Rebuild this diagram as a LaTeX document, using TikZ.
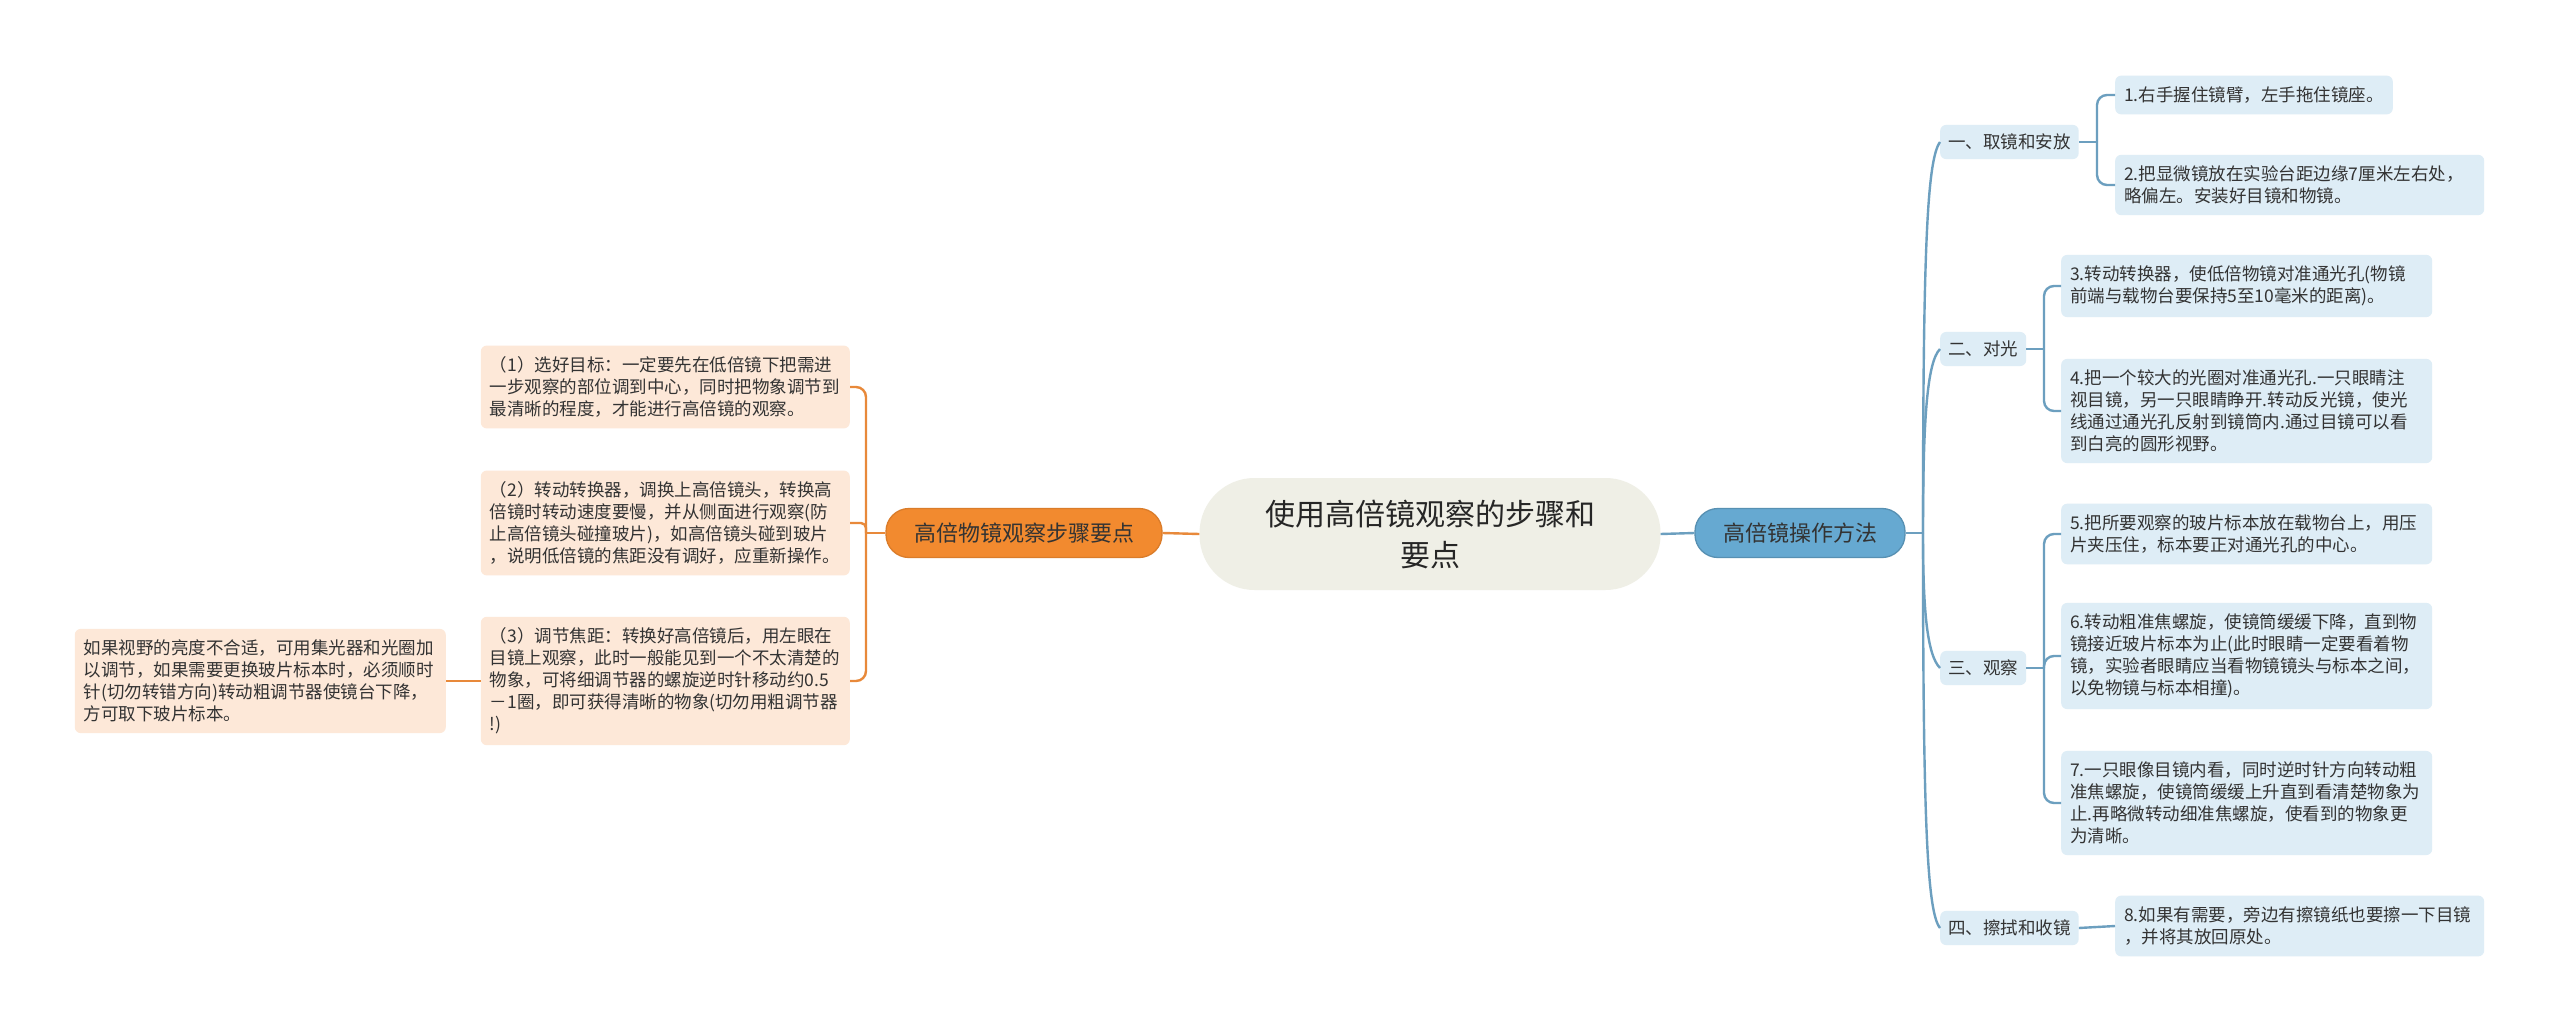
\documentclass[tikz,border=0pt]{standalone}
\usepackage{fontspec}
\setmainfont{Noto Sans CJK SC}
\usetikzlibrary{positioning,calc}

\definecolor{linkorange}{HTML}{E8893A}
\definecolor{linkblue}{HTML}{6C9FBF}
\definecolor{peach}{HTML}{FDE8D8}
\definecolor{paleblue}{HTML}{DEEDF6}
\definecolor{rootfill}{HTML}{EFEFE6}
\definecolor{mainorange}{HTML}{F28A2F}
\definecolor{mainblue}{HTML}{66A9D1}
\definecolor{textdark}{HTML}{333333}

\begin{document}
\begin{tikzpicture}[x=1pt,y=-1pt,
    leafo/.style={fill=peach, rounded corners=6pt, text=textdark, align=left,
      font=\fontsize{17.5}{22}\selectfont, inner xsep=9pt, inner ysep=11pt},
    leafb/.style={leafo, fill=paleblue},
    topicb/.style={fill=paleblue, rounded corners=6pt, text=textdark,
      font=\fontsize{17.5}{22}\selectfont, inner xsep=8pt, inner ysep=9pt},
    mainnode/.style={rounded corners=23pt, text=textdark, minimum height=49pt,
      inner xsep=28pt, font=\fontsize{22}{26}\selectfont, line width=1.3pt},
    olink/.style={draw=linkorange, line width=2.4pt},
    blink/.style={draw=linkblue, line width=2.4pt},
  ]

  \fill[white] (0,0) rectangle (2560,1035);
  \useasboundingbox (0,0) rectangle (2560,1035);

  \node[fill=rootfill, rounded corners=55pt, minimum width=461pt, minimum height=112pt,
    align=center, text=black!85, font=\fontsize{30}{41}\selectfont] (root) at (1430,534)
    {使用高倍镜观察的步骤和\\要点};

  \node[mainnode, fill=mainorange, draw=mainorange!90!black] (steps) at (1024,533) {高倍物镜观察步骤要点};
  \node[mainnode, fill=mainblue, draw=mainblue!85!black] (method) at (1800,533) {高倍镜操作方法};

  \draw[olink] (root.west) -- (steps.east);
  \draw[blink] (root.east) -- (method.west);

  \node[leafo, text width=351pt, anchor=east] (s1) at (850,387)
    {（1）选好目标：一定要先在低倍镜下把需进\\一步观察的部位调到中心，同时把物象调节到\\最清晰的程度，才能进行高倍镜的观察。};
  \node[leafo, text width=351pt, anchor=east] (s2) at (850,523)
    {（2）转动转换器，调换上高倍镜头，转换高\\倍镜时转动速度要慢，并从侧面进行观察(防\\止高倍镜头碰撞玻片)，如高倍镜头碰到玻片\\，说明低倍镜的焦距没有调好，应重新操作。};
  \node[leafo, text width=351pt, anchor=east] (s3) at (850,681)
    {（3）调节焦距：转换好高倍镜后，用左眼在\\目镜上观察，此时一般能见到一个不太清楚的\\物象，可将细调节器的螺旋逆时针移动约0.5\\－1圈，即可获得清晰的物象(切勿用粗调节器\\!)};
  \node[leafo, text width=353pt, anchor=east] (s3a) at (446,681)
    {如果视野的亮度不合适，可用集光器和光圈加\\以调节，如果需要更换玻片标本时，必须顺时\\针(切勿转错方向)转动粗调节器使镜台下降，\\方可取下玻片标本。};

  \coordinate (lh) at (866,533);
  \draw[olink] (steps.west) -- (lh);
  \draw[olink, rounded corners=10pt] (lh) |- (s1.east);
  \draw[olink, rounded corners=5pt] (lh) |- (s2.east);
  \draw[olink, rounded corners=10pt] (lh) |- (s3.east);
  \draw[olink] (s3.west) -- (s3a.east);

  \node[topicb, anchor=west] (t1) at (1940,142) {一、取镜和安放};
  \node[topicb, anchor=west] (t2) at (1940,349) {二、对光};
  \node[topicb, anchor=west] (t3) at (1940,668) {三、观察};
  \node[topicb, anchor=west] (t4) at (1940,928) {四、擦拭和收镜};

  \coordinate (rh) at (1923,533);
  \draw[blink] (method.east) -- (rh);
  \draw[blink] (rh) .. controls (1923,250) and (1927,160) .. (t1.west);
  \draw[blink] (rh) .. controls (1923,420) and (1927,362) .. (t2.west);
  \draw[blink] (rh) .. controls (1923,610) and (1927,655) .. (t3.west);
  \draw[blink] (rh) .. controls (1923,820) and (1927,912) .. (t4.west);

  \node[leafb, anchor=west] (p1) at (2115,95) {1.右手握住镜臂，左手拖住镜座。};
  \node[leafb, text width=351pt, anchor=west] (p2) at (2115,185)
    {2.把显微镜放在实验台距边缘7厘米左右处，\\略偏左。安装好目镜和物镜。};
  \node[leafb, text width=353pt, anchor=west] (p3) at (2061,286)
    {3.转动转换器，使低倍物镜对准通光孔(物镜\\前端与载物台要保持5至10毫米的距离)。};
  \node[leafb, text width=353pt, anchor=west] (p4) at (2061,411)
    {4.把一个较大的光圈对准通光孔.一只眼睛注\\视目镜，另一只眼睛睁开.转动反光镜，使光\\线通过通光孔反射到镜筒内.通过目镜可以看\\到白亮的圆形视野。};
  \node[leafb, text width=353pt, anchor=west] (p5) at (2061,534)
    {5.把所要观察的玻片标本放在载物台上，用压\\片夹压住，标本要正对通光孔的中心。};
  \node[leafb, text width=353pt, anchor=west] (p6) at (2061,656)
    {6.转动粗准焦螺旋，使镜筒缓缓下降，直到物\\镜接近玻片标本为止(此时眼睛一定要看着物\\镜，实验者眼睛应当看物镜镜头与标本之间，\\以免物镜与标本相撞)。};
  \node[leafb, text width=353pt, anchor=west] (p7) at (2061,803)
    {7.一只眼像目镜内看，同时逆时针方向转动粗\\准焦螺旋，使镜筒缓缓上升直到看清楚物象为\\止.再略微转动细准焦螺旋，使看到的物象更\\为清晰。};
  \node[leafb, text width=351pt, anchor=west] (p8) at (2115,926)
    {8.如果有需要，旁边有擦镜纸也要擦一下目镜\\，并将其放回原处。};

  \coordinate (h1) at (2097,142);
  \coordinate (h2) at (2044,349);
  \coordinate (h3) at (2044,668);
  \draw[blink] (t1.east) -- (h1);
  \draw[blink, rounded corners=10pt] (h1) |- (p1.west);
  \draw[blink, rounded corners=10pt] (h1) |- (p2.west);
  \draw[blink] (t2.east) -- (h2);
  \draw[blink, rounded corners=10pt] (h2) |- (p3.west);
  \draw[blink, rounded corners=10pt] (h2) |- (p4.west);
  \draw[blink] (t3.east) -- (h3);
  \draw[blink, rounded corners=10pt] (h3) |- (p5.west);
  \draw[blink, rounded corners=10pt] (h3) |- (p6.west);
  \draw[blink, rounded corners=10pt] (h3) |- (p7.west);
  \draw[blink] (t4.east) -- (p8.west);
\end{tikzpicture}
\end{document}
